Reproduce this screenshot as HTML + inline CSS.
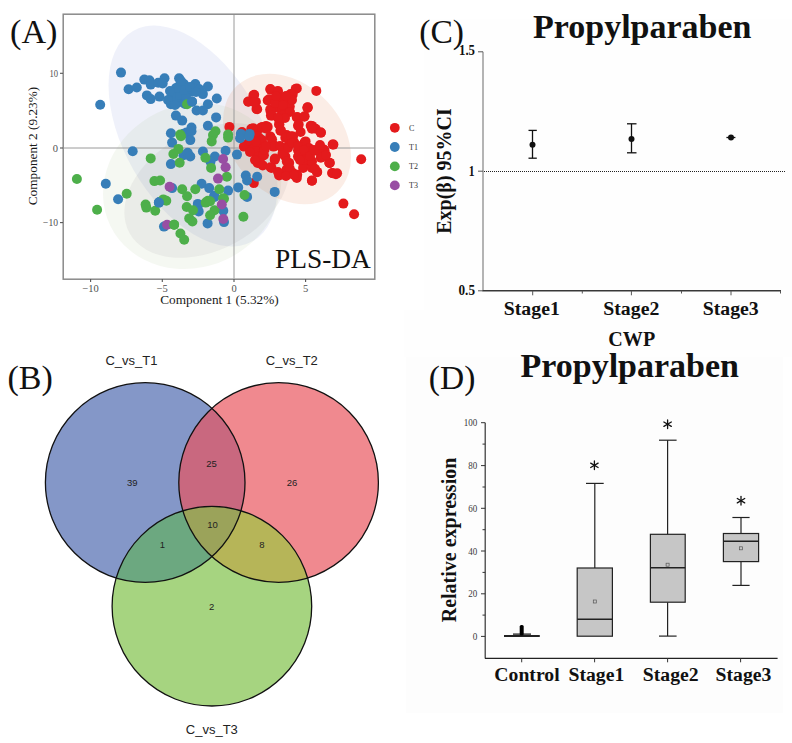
<!DOCTYPE html>
<html><head><meta charset="utf-8">
<style>
html,body{margin:0;padding:0;background:#fff;width:792px;height:743px;overflow:hidden}
svg{display:block}
.s{font-family:"Liberation Serif",serif}
.a{font-family:"Liberation Sans",sans-serif}
</style></head><body>
<svg width="792" height="743" viewBox="0 0 792 743">
<rect x="424" y="19" width="368" height="291" fill="#fefefe"/>
<rect x="404" y="310" width="388" height="46.5" fill="#fefefe"/>
<rect x="406" y="356.5" width="377" height="356.5" fill="#fdfdfd"/>
<!-- ============ PANEL A ============ -->
<g id="A">
<defs><clipPath id="clipA"><rect x="63.5" y="14.5" width="311" height="264"/></clipPath></defs>
<g clip-path="url(#clipA)">
<!-- ellipses -->
<ellipse cx="193" cy="136" rx="121" ry="68.5" transform="rotate(60.3 193 136)" fill="#6c80d0" fill-opacity="0.11"/>
<ellipse cx="287" cy="139" rx="73" ry="55" transform="rotate(47 287 139)" fill="#e4804b" fill-opacity="0.14"/>
<ellipse cx="192.2" cy="186" rx="91" ry="81.1" transform="rotate(-25.85 192.2 186)" fill="#9bbc80" fill-opacity="0.10"/>
<ellipse cx="206.9" cy="190.5" rx="88.3" ry="59.5" transform="rotate(-28.7 206.9 190.5)" fill="#665866" fill-opacity="0.075"/>
<line x1="234" y1="14" x2="234" y2="279" stroke="#9a9a9a" stroke-width="1"/>
<line x1="63" y1="148" x2="375" y2="148" stroke="#9a9a9a" stroke-width="1"/>
<!--PTS-->
<g fill="#E41A1C"><circle cx="229.4" cy="126.9" r="5.0"/><circle cx="253.4" cy="95.4" r="5.0"/><circle cx="248.3" cy="101.7" r="5.0"/><circle cx="255.9" cy="101.7" r="5.0"/><circle cx="257.2" cy="109.2" r="5.0"/><circle cx="253.4" cy="128.2" r="5.0"/><circle cx="262.2" cy="126.9" r="5.0"/><circle cx="242" cy="132" r="5.0"/><circle cx="270.3" cy="89" r="5.0"/><circle cx="277.8" cy="90.9" r="5.0"/><circle cx="267.7" cy="100.4" r="5.0"/><circle cx="275.3" cy="99.1" r="5.0"/><circle cx="282.9" cy="97.9" r="5.0"/><circle cx="289.2" cy="101.7" r="5.0"/><circle cx="290.5" cy="94.1" r="5.0"/><circle cx="296.8" cy="88.4" r="5.0"/><circle cx="316.3" cy="90.9" r="5.0"/><circle cx="270.3" cy="109.2" r="5.0"/><circle cx="277.8" cy="108" r="5.0"/><circle cx="287.9" cy="108" r="5.0"/><circle cx="270.9" cy="115.6" r="5.0"/><circle cx="281.6" cy="115.6" r="5.0"/><circle cx="307.5" cy="108" r="5.0"/><circle cx="296.8" cy="117.4" r="5.0"/><circle cx="304.3" cy="116.8" r="5.0"/><circle cx="279.1" cy="124.4" r="5.0"/><circle cx="280.4" cy="130.7" r="5.0"/><circle cx="267.7" cy="126.9" r="5.0"/><circle cx="251.3" cy="128.8" r="5.0"/><circle cx="260.2" cy="128.2" r="5.0"/><circle cx="298" cy="125.7" r="5.0"/><circle cx="310.7" cy="125.7" r="5.0"/><circle cx="315.7" cy="128.8" r="5.0"/><circle cx="320.8" cy="132.6" r="5.0"/><circle cx="300.6" cy="132" r="5.0"/><circle cx="247.5" cy="143.9" r="5.0"/><circle cx="252.6" cy="147.7" r="5.0"/><circle cx="258.9" cy="137.6" r="5.0"/><circle cx="261.4" cy="146.5" r="5.0"/><circle cx="270.3" cy="136.4" r="5.0"/><circle cx="274" cy="145.2" r="5.0"/><circle cx="266.5" cy="128.8" r="5.0"/><circle cx="286.7" cy="135.1" r="5.0"/><circle cx="293" cy="136.4" r="5.0"/><circle cx="282.9" cy="150.3" r="5.0"/><circle cx="289.2" cy="143.9" r="5.0"/><circle cx="311.9" cy="128.8" r="5.0"/><circle cx="305.6" cy="141.4" r="5.0"/><circle cx="298" cy="150.3" r="5.0"/><circle cx="308.1" cy="150.3" r="5.0"/><circle cx="319.5" cy="149" r="5.0"/><circle cx="324.5" cy="150.3" r="5.0"/><circle cx="333.4" cy="144.6" r="5.0"/><circle cx="258.9" cy="155.3" r="5.0"/><circle cx="263.9" cy="155.3" r="5.0"/><circle cx="274.7" cy="159.7" r="5.0"/><circle cx="285.4" cy="156.6" r="5.0"/><circle cx="298" cy="156.6" r="5.0"/><circle cx="304.3" cy="157.8" r="5.0"/><circle cx="320.8" cy="157.8" r="5.0"/><circle cx="257.6" cy="162.9" r="5.0"/><circle cx="262.7" cy="165.4" r="5.0"/><circle cx="289.2" cy="162.9" r="5.0"/><circle cx="304.3" cy="162.9" r="5.0"/><circle cx="329.6" cy="162.9" r="5.0"/><circle cx="271.5" cy="167.9" r="5.0"/><circle cx="279.1" cy="175.5" r="5.0"/><circle cx="286.7" cy="169.2" r="5.0"/><circle cx="293" cy="173" r="5.0"/><circle cx="296.8" cy="178" r="5.0"/><circle cx="303.1" cy="167.9" r="5.0"/><circle cx="311.9" cy="167.9" r="5.0"/><circle cx="317" cy="172.3" r="5.0"/><circle cx="311.9" cy="180.6" r="5.0"/><circle cx="332.1" cy="173" r="5.0"/><circle cx="335.9" cy="174.2" r="5.0"/><circle cx="253.8" cy="183.1" r="5.0"/><circle cx="312.1" cy="126.8" r="5.0"/><circle cx="361.2" cy="159.3" r="5.0"/><circle cx="317.2" cy="171.9" r="5.0"/><circle cx="343.4" cy="203.6" r="5.0"/><circle cx="354.1" cy="214.3" r="5.0"/><circle cx="307.7" cy="107.3" r="5.0"/><circle cx="329.3" cy="162.8" r="5.0"/><circle cx="320.2" cy="149.7" r="5.0"/><circle cx="254.2" cy="94.8" r="5.0"/><circle cx="248.3" cy="101.5" r="5.0"/><circle cx="256.5" cy="108.9" r="5.0"/><circle cx="254.2" cy="102.2" r="5.0"/><circle cx="270.5" cy="89.6" r="5.0"/><circle cx="277.9" cy="91.8" r="5.0"/><circle cx="295.7" cy="88.9" r="5.0"/><circle cx="292.7" cy="94.8" r="5.0"/><circle cx="269" cy="99.2" r="5.0"/><circle cx="279.4" cy="100.7" r="5.0"/><circle cx="286.8" cy="102.2" r="5.0"/><circle cx="289.8" cy="106.6" r="5.0"/><circle cx="270.5" cy="111.1" r="5.0"/><circle cx="282.4" cy="109.6" r="5.0"/><circle cx="272" cy="115.5" r="5.0"/><circle cx="282.4" cy="115.5" r="5.0"/><circle cx="307.5" cy="107.4" r="5.0"/><circle cx="297.2" cy="117" r="5.0"/><circle cx="304.6" cy="116.3" r="5.0"/><circle cx="279.4" cy="124.4" r="5.0"/><circle cx="280.9" cy="130.3" r="5.0"/><circle cx="298.7" cy="124.4" r="5.0"/><circle cx="312" cy="125.9" r="5.0"/><circle cx="320.9" cy="132.6" r="5.0"/><circle cx="332.7" cy="144.4" r="5.0"/><circle cx="242.4" cy="133.3" r="5.0"/><circle cx="252.8" cy="128.9" r="5.0"/><circle cx="266.1" cy="125.9" r="5.0"/><circle cx="243.9" cy="146.6" r="5.0"/><circle cx="257.2" cy="136.3" r="5.0"/><circle cx="261.6" cy="143.7" r="5.0"/><circle cx="272" cy="139.2" r="5.0"/><circle cx="273.5" cy="146.6" r="5.0"/><circle cx="285.3" cy="137.7" r="5.0"/><circle cx="291.3" cy="136.3" r="5.0"/><circle cx="294.2" cy="142.2" r="5.0"/><circle cx="285.3" cy="148.1" r="5.0"/><circle cx="282.4" cy="154" r="5.0"/><circle cx="257.2" cy="154" r="5.0"/><circle cx="263.1" cy="155.5" r="5.0"/><circle cx="275" cy="158.5" r="5.0"/><circle cx="260.2" cy="162.9" r="5.0"/><circle cx="270.5" cy="167.3" r="5.0"/><circle cx="279.4" cy="174.7" r="5.0"/><circle cx="286.8" cy="161.4" r="5.0"/><circle cx="289.8" cy="168.8" r="5.0"/><circle cx="297.2" cy="174.7" r="5.0"/><circle cx="300.1" cy="154" r="5.0"/><circle cx="304.6" cy="142.2" r="5.0"/><circle cx="309" cy="148.1" r="5.0"/><circle cx="303.1" cy="159.9" r="5.0"/><circle cx="312" cy="161.4" r="5.0"/><circle cx="314.9" cy="168.8" r="5.0"/><circle cx="317.9" cy="151.1" r="5.0"/><circle cx="323.8" cy="149.6" r="5.0"/><circle cx="322.3" cy="157" r="5.0"/><circle cx="329.7" cy="162.9" r="5.0"/><circle cx="332.7" cy="173.3" r="5.0"/><circle cx="337.1" cy="173.3" r="5.0"/><circle cx="312" cy="180.7" r="5.0"/><circle cx="249.8" cy="140.7" r="5.0"/><circle cx="254.2" cy="148.1" r="5.0"/><circle cx="264.6" cy="149.6" r="5.0"/><circle cx="262" cy="140" r="5.0"/><circle cx="266" cy="146" r="5.0"/><circle cx="256" cy="142" r="5.0"/><circle cx="280" cy="146" r="5.0"/><circle cx="288" cy="148" r="5.0"/><circle cx="292" cy="143" r="5.0"/><circle cx="298" cy="146" r="5.0"/><circle cx="304" cy="150" r="5.0"/><circle cx="310" cy="156" r="5.0"/><circle cx="300" cy="160" r="5.0"/><circle cx="314" cy="150" r="5.0"/><circle cx="320" cy="145" r="5.0"/><circle cx="326" cy="155" r="5.0"/><circle cx="278" cy="172" r="5.0"/><circle cx="286" cy="176" r="5.0"/><circle cx="294" cy="175" r="5.0"/><circle cx="250" cy="152" r="5.0"/><circle cx="255" cy="160" r="5.0"/><circle cx="275" cy="103" r="5.0"/><circle cx="283" cy="105" r="5.0"/><circle cx="290" cy="112" r="5.0"/><circle cx="285" cy="118" r="5.0"/><circle cx="278" cy="118" r="5.0"/><circle cx="292" cy="100" r="5.0"/><circle cx="276" cy="96" r="5.0"/><circle cx="286" cy="96" r="5.0"/></g>
<g fill="#377EB8"><circle cx="121.0" cy="72.6" r="5.0"/><circle cx="100.2" cy="104.8" r="5.0"/><circle cx="128.6" cy="89.3" r="5.0"/><circle cx="136.8" cy="87.5" r="5.0"/><circle cx="144.3" cy="79.6" r="5.0"/><circle cx="149.4" cy="80.2" r="5.0"/><circle cx="150.7" cy="84.6" r="5.0"/><circle cx="158.2" cy="82.7" r="5.0"/><circle cx="164.5" cy="78.3" r="5.0"/><circle cx="162.7" cy="83.4" r="5.0"/><circle cx="146.9" cy="95.4" r="5.0"/><circle cx="150.7" cy="99.1" r="5.0"/><circle cx="159.5" cy="96.6" r="5.0"/><circle cx="179.1" cy="78.3" r="5.0"/><circle cx="179.7" cy="85.3" r="5.0"/><circle cx="175.9" cy="92.8" r="5.0"/><circle cx="172.1" cy="100.4" r="5.0"/><circle cx="170.9" cy="104.2" r="5.0"/><circle cx="177.2" cy="102.9" r="5.0"/><circle cx="175.9" cy="115.6" r="5.0"/><circle cx="182.2" cy="120.6" r="5.0"/><circle cx="170.9" cy="133.2" r="5.0"/><circle cx="183.9" cy="84" r="5.0"/><circle cx="195.3" cy="84" r="5.0"/><circle cx="199.1" cy="89" r="5.0"/><circle cx="207.9" cy="86.5" r="5.0"/><circle cx="202.9" cy="94.1" r="5.0"/><circle cx="186.5" cy="90.3" r="5.0"/><circle cx="191.5" cy="91.6" r="5.0"/><circle cx="178.9" cy="101.7" r="5.0"/><circle cx="192.1" cy="101.7" r="5.0"/><circle cx="216.8" cy="98.5" r="5.0"/><circle cx="207.9" cy="104.2" r="5.0"/><circle cx="196.6" cy="110.5" r="5.0"/><circle cx="202.9" cy="110.5" r="5.0"/><circle cx="216.1" cy="117.4" r="5.0"/><circle cx="207.9" cy="125.7" r="5.0"/><circle cx="191.5" cy="127.6" r="5.0"/><circle cx="186.5" cy="132.6" r="5.0"/><circle cx="240.8" cy="133.9" r="5.0"/><circle cx="249.6" cy="133.9" r="5.0"/><circle cx="132.7" cy="151.2" r="5.0"/><circle cx="105.8" cy="183.7" r="5.0"/><circle cx="118.1" cy="199.2" r="5.0"/><circle cx="172.1" cy="142.6" r="5.0"/><circle cx="183.5" cy="133.8" r="5.0"/><circle cx="170.9" cy="164.1" r="5.0"/><circle cx="183.5" cy="155.3" r="5.0"/><circle cx="172.1" cy="188.1" r="5.0"/><circle cx="159.5" cy="202" r="5.0"/><circle cx="190.3" cy="140.1" r="5.0"/><circle cx="191.5" cy="131.3" r="5.0"/><circle cx="187.7" cy="152.7" r="5.0"/><circle cx="190.3" cy="156.5" r="5.0"/><circle cx="202.9" cy="151.5" r="5.0"/><circle cx="214.9" cy="156.5" r="5.0"/><circle cx="210.5" cy="161.6" r="5.0"/><circle cx="225.6" cy="150.8" r="5.0"/><circle cx="237" cy="154.6" r="5.0"/><circle cx="240.1" cy="138.2" r="5.0"/><circle cx="249" cy="136.3" r="5.0"/><circle cx="245.8" cy="175.5" r="5.0"/><circle cx="247.1" cy="180.5" r="5.0"/><circle cx="257.2" cy="176.7" r="5.0"/><circle cx="201.6" cy="183.7" r="5.0"/><circle cx="209.2" cy="188.1" r="5.0"/><circle cx="214.2" cy="195.7" r="5.0"/><circle cx="228.1" cy="190.6" r="5.0"/><circle cx="238.2" cy="187.4" r="5.0"/><circle cx="247.1" cy="196.9" r="5.0"/><circle cx="197.8" cy="203.9" r="5.0"/><circle cx="274.7" cy="191.9" r="5.0"/><circle cx="158.9" cy="202.6" r="5.0"/><circle cx="198.1" cy="205.1" r="5.0"/><circle cx="198.7" cy="211.4" r="5.0"/><circle cx="164" cy="226.6" r="5.0"/><circle cx="207.6" cy="223.4" r="5.0"/><circle cx="214.5" cy="196.9" r="5.0"/><circle cx="223.3" cy="210.8" r="5.0"/><circle cx="224" cy="222.1" r="5.0"/><circle cx="172" cy="96" r="5.0"/><circle cx="180" cy="95" r="5.0"/><circle cx="186" cy="97" r="5.0"/><circle cx="184" cy="90" r="5.0"/><circle cx="190" cy="87" r="5.0"/><circle cx="176" cy="88" r="5.0"/><circle cx="168" cy="100" r="5.0"/><circle cx="175" cy="105" r="5.0"/><circle cx="196" cy="92" r="5.0"/><circle cx="185" cy="104" r="5.0"/><circle cx="181" cy="81" r="5.0"/><circle cx="170" cy="91" r="5.0"/></g>
<g fill="#4DAF4A"><circle cx="243.4" cy="216.8" r="5.0"/><circle cx="187.1" cy="104.2" r="5.0"/><circle cx="215.5" cy="131.3" r="5.0"/><circle cx="228.1" cy="134.5" r="5.0"/><circle cx="180.2" cy="134.5" r="5.0"/><circle cx="150.7" cy="158.4" r="5.0"/><circle cx="178.4" cy="148.9" r="5.0"/><circle cx="173.4" cy="154" r="5.0"/><circle cx="179.7" cy="162.8" r="5.0"/><circle cx="181" cy="136.3" r="5.0"/><circle cx="154.4" cy="181.1" r="5.0"/><circle cx="160.1" cy="180.5" r="5.0"/><circle cx="126.7" cy="193.8" r="5.0"/><circle cx="182.2" cy="189.3" r="5.0"/><circle cx="163.3" cy="199.4" r="5.0"/><circle cx="145.6" cy="204.5" r="5.0"/><circle cx="76.9" cy="179" r="5.0"/><circle cx="97.1" cy="209.8" r="5.0"/><circle cx="213" cy="135" r="5.0"/><circle cx="211.7" cy="141.4" r="5.0"/><circle cx="228.1" cy="137.6" r="5.0"/><circle cx="205.4" cy="157.8" r="5.0"/><circle cx="211.1" cy="167.9" r="5.0"/><circle cx="226.9" cy="176.7" r="5.0"/><circle cx="187.1" cy="196.3" r="5.0"/><circle cx="195.3" cy="189.3" r="5.0"/><circle cx="219.3" cy="189.3" r="5.0"/><circle cx="223.1" cy="198.2" r="5.0"/><circle cx="244.5" cy="195" r="5.0"/><circle cx="207.9" cy="200.7" r="5.0"/><circle cx="166.3" cy="200.7" r="5.0"/><circle cx="146.3" cy="207.6" r="5.0"/><circle cx="155.2" cy="210.8" r="5.0"/><circle cx="186.7" cy="207" r="5.0"/><circle cx="193" cy="210.2" r="5.0"/><circle cx="189.2" cy="218.4" r="5.0"/><circle cx="192.4" cy="221.5" r="5.0"/><circle cx="174.1" cy="224.7" r="5.0"/><circle cx="180.4" cy="233.5" r="5.0"/><circle cx="184.2" cy="239.8" r="5.0"/><circle cx="205.7" cy="202.6" r="5.0"/><circle cx="210.1" cy="201.3" r="5.0"/><circle cx="214.5" cy="210.2" r="5.0"/><circle cx="210.1" cy="215.2" r="5.0"/><circle cx="224" cy="198.8" r="5.0"/></g>
<g fill="#377EB8"><circle cx="191.9" cy="101.6" r="5.0"/><circle cx="158.9" cy="202.6" r="5.0"/></g>
<g fill="#984EA3"><circle cx="169.6" cy="186.8" r="5.0"/><circle cx="223.1" cy="159" r="5.0"/><circle cx="225.6" cy="167.2" r="5.0"/><circle cx="218" cy="178.6" r="5.0"/><circle cx="221.8" cy="204.5" r="5.0"/><circle cx="167.1" cy="224.7" r="5.0"/><circle cx="223.3" cy="219" r="5.0"/></g>
<g fill="#4DAF4A"><circle cx="174.1" cy="224.7" r="5.0"/></g>
<!--/PTS-->
</g>
<rect x="63.2" y="14.2" width="311.6" height="265" fill="none" stroke="#8a8a8a" stroke-width="1.5"/>
<!-- ticks -->
<g stroke="#555" stroke-width="1.1">
<line x1="90.6" y1="279" x2="90.6" y2="282"/><line x1="162.3" y1="279" x2="162.3" y2="282"/>
<line x1="234" y1="279" x2="234" y2="282"/><line x1="305.6" y1="279" x2="305.6" y2="282"/>
<line x1="60" y1="73.3" x2="63" y2="73.3"/><line x1="60" y1="148" x2="63" y2="148"/><line x1="60" y1="222.6" x2="63" y2="222.6"/>
</g>
<g class="s" font-size="10.5" fill="#505050" text-anchor="middle">
<text x="90.6" y="292">−10</text><text x="162.3" y="292">−5</text><text x="234" y="292">0</text><text x="305.6" y="292">5</text>
</g>
<g class="s" font-size="10.5" fill="#505050" text-anchor="end">
<text x="58" y="77" textLength="8.6" lengthAdjust="spacingAndGlyphs">10</text><text x="58" y="151.7">0</text><text x="58" y="226.3" textLength="15" lengthAdjust="spacingAndGlyphs">−10</text>
</g>
<text class="s" x="219.5" y="304" font-size="13.3" text-anchor="middle" fill="#1a1a1a">Component 1 (5.32%)</text>
<text class="s" transform="translate(36.8 146) rotate(-90)" font-size="13.3" text-anchor="middle" fill="#1a1a1a">Component 2 (9.23%)</text>
<text class="s" x="275" y="268" font-size="27.4" fill="#111">PLS-DA</text>
<text class="s" x="10" y="43" font-size="34.2" fill="#111">(A)</text>
<!-- legend -->
<circle cx="394.8" cy="127.8" r="4.9" fill="#E41A1C"/>
<circle cx="394.8" cy="147" r="4.9" fill="#377EB8"/>
<circle cx="394.8" cy="166.4" r="4.9" fill="#4DAF4A"/>
<circle cx="394.8" cy="185.4" r="4.9" fill="#984EA3"/>
<g class="s" font-size="8" fill="#333">
<text x="409" y="130.5">C</text><text x="409" y="149.8">T1</text><text x="409" y="169.2">T2</text><text x="409" y="188.2">T3</text>
</g>
</g>

<!-- ============ PANEL B ============ -->
<g id="B">
<defs>
<clipPath id="cA"><circle cx="145.2" cy="482.5" r="99.8"/></clipPath>
<clipPath id="cB"><circle cx="278.6" cy="482.5" r="99.8"/></clipPath>
</defs>
<circle cx="145.2" cy="482.5" r="99.8" fill="#8497c8"/>
<circle cx="278.6" cy="482.5" r="99.8" fill="#f0898f"/>
<circle cx="211.9" cy="606.2" r="99.8" fill="#a6d480"/>
<circle cx="278.6" cy="482.5" r="99.8" fill="#c9687f" clip-path="url(#cA)"/>
<circle cx="211.9" cy="606.2" r="99.8" fill="#6ca880" clip-path="url(#cA)"/>
<circle cx="211.9" cy="606.2" r="99.8" fill="#b6b558" clip-path="url(#cB)"/>
<g clip-path="url(#cA)"><circle cx="211.9" cy="606.2" r="99.8" fill="#9ba35a" clip-path="url(#cB)"/></g>
<g fill="none" stroke="#111" stroke-width="1.3">
<circle cx="145.2" cy="482.5" r="99.8"/>
<circle cx="278.6" cy="482.5" r="99.8"/>
<circle cx="211.9" cy="606.2" r="99.8"/>
</g>
<g class="a" font-size="9.5" fill="#222" text-anchor="middle">
<text x="132.3" y="485.7">39</text>
<text x="292" y="485.9">26</text>
<text x="211.5" y="467.3">25</text>
<text x="212.5" y="527.9">10</text>
<text x="162.3" y="548.2">1</text>
<text x="261.8" y="548.2">8</text>
<text x="211.6" y="609.8">2</text>
</g>
<g class="a" font-size="13" fill="#222" text-anchor="middle">
<text x="131.5" y="364.6">C_vs_T1</text>
<text x="291.8" y="364.6">C_vs_T2</text>
<text x="211.8" y="734.4">C_vs_T3</text>
</g>
<text class="s" x="7.5" y="388.5" font-size="34" fill="#111">(B)</text>
</g>

<!-- ============ PANEL C ============ -->
<g id="C">
<text class="s" x="533" y="38.4" font-size="34" font-weight="700" fill="#111">Propylparaben</text>
<text class="s" x="419.3" y="43.3" font-size="33.5" fill="#111">(C)</text>
<line x1="483" y1="51.8" x2="483" y2="291" stroke="#6a6a6a" stroke-width="1"/>
<line x1="482.5" y1="290.8" x2="781" y2="290.8" stroke="#383838" stroke-width="1.4"/>
<g stroke="#555" stroke-width="1">
<line x1="478" y1="51.8" x2="483" y2="51.8"/><line x1="478" y1="171.2" x2="483" y2="171.2"/><line x1="478" y1="290.8" x2="483" y2="290.8"/>
<line x1="532.7" y1="290.8" x2="532.7" y2="295.3"/><line x1="631.4" y1="290.8" x2="631.4" y2="295.3"/><line x1="731" y1="290.8" x2="731" y2="295.3"/>
<line x1="582.3" y1="290.8" x2="582.3" y2="293.5"/><line x1="681.5" y1="290.8" x2="681.5" y2="293.5"/><line x1="780.5" y1="290.8" x2="780.5" y2="293.5"/>
</g>
<line x1="484" y1="171.5" x2="785.5" y2="171.5" stroke="#222" stroke-width="1.1" stroke-dasharray="1 1"/>
<g class="s" font-size="14.5" font-weight="700" fill="#111" text-anchor="end">
<text x="475" y="55.3" textLength="16" lengthAdjust="spacingAndGlyphs">1.5</text><text x="474.5" y="175.7" textLength="5.8" lengthAdjust="spacingAndGlyphs">1</text><text x="475" y="294.9" textLength="16.5" lengthAdjust="spacingAndGlyphs">0.5</text>
</g>
<g class="s" font-size="19.8" font-weight="700" fill="#111" text-anchor="middle">
<text x="531.8" y="315">Stage1</text><text x="631.3" y="315">Stage2</text><text x="730.7" y="315">Stage3</text>
</g>
<text class="s" x="631.8" y="346.3" font-size="20.1" font-weight="700" text-anchor="middle" fill="#111">CWP</text>
<text class="s" transform="translate(451 171) rotate(-90)" font-size="20" font-weight="700" text-anchor="middle" fill="#111">Exp(β) 95%CI</text>
<!-- error bars -->
<g stroke="#111" stroke-width="1.3" fill="#111">
<line x1="532.5" y1="130.4" x2="532.5" y2="158.2"/><line x1="528.5" y1="130.4" x2="536.8" y2="130.4"/><line x1="528.5" y1="158.2" x2="536.8" y2="158.2"/>
<circle cx="532.5" cy="144.8" r="3" stroke="none"/>
<line x1="631.5" y1="123.8" x2="631.5" y2="152.8"/><line x1="627" y1="123.8" x2="636.5" y2="123.8"/><line x1="627" y1="152.8" x2="636.5" y2="152.8"/>
<circle cx="631.5" cy="139" r="3" stroke="none"/>
<line x1="726.4" y1="137.5" x2="735.4" y2="137.5"/>
<circle cx="731" cy="137.5" r="3" stroke="none"/>
</g>
</g>

<!-- ============ PANEL D ============ -->
<g id="D">
<text class="s" x="520.5" y="376.6" font-size="34" font-weight="700" fill="#111">Propylparaben</text>
<text class="s" x="428.8" y="389.2" font-size="33.5" fill="#111">(D)</text>
<line x1="485.2" y1="422.7" x2="485.2" y2="658.5" stroke="#333" stroke-width="1.2"/>
<line x1="485" y1="658.3" x2="777.6" y2="658.3" stroke="#222" stroke-width="1.3"/>
<g stroke="#333" stroke-width="1">
<line x1="481" y1="422.7" x2="485.2" y2="422.7"/><line x1="481" y1="465.6" x2="485.2" y2="465.6"/><line x1="481" y1="508.3" x2="485.2" y2="508.3"/>
<line x1="481" y1="551" x2="485.2" y2="551"/><line x1="481" y1="593.8" x2="485.2" y2="593.8"/><line x1="481" y1="636.4" x2="485.2" y2="636.4"/>
<line x1="482.5" y1="444.1" x2="485.2" y2="444.1"/><line x1="482.5" y1="487" x2="485.2" y2="487"/><line x1="482.5" y1="529.7" x2="485.2" y2="529.7"/>
<line x1="482.5" y1="572.4" x2="485.2" y2="572.4"/><line x1="482.5" y1="615.1" x2="485.2" y2="615.1"/>
<line x1="521.7" y1="658.2" x2="521.7" y2="662.3"/><line x1="594.6" y1="658.2" x2="594.6" y2="662.3"/>
<line x1="667.6" y1="658.2" x2="667.6" y2="662.3"/><line x1="740.6" y1="658.2" x2="740.6" y2="662.3"/>
</g>
<g class="s" font-size="10" fill="#3a3a3a" text-anchor="end">
<text x="477.3" y="426.2" textLength="13.6" lengthAdjust="spacingAndGlyphs">100</text><text x="477.3" y="469.1" textLength="9" lengthAdjust="spacingAndGlyphs">80</text><text x="477.3" y="511.8" textLength="9" lengthAdjust="spacingAndGlyphs">60</text>
<text x="477.3" y="554.5" textLength="9" lengthAdjust="spacingAndGlyphs">40</text><text x="477.3" y="597.3" textLength="9" lengthAdjust="spacingAndGlyphs">20</text><text x="477.3" y="639.9" textLength="4.6" lengthAdjust="spacingAndGlyphs">0</text>
</g>
<g class="s" font-size="19.7" font-weight="700" fill="#111" text-anchor="middle">
<text x="527" y="680.8">Control</text><text x="596.4" y="680.8">Stage1</text><text x="670.7" y="680.8">Stage2</text><text x="743.5" y="680.8">Stage3</text>
</g>
<text class="s" transform="translate(455.6 540) rotate(-90)" font-size="20" font-weight="700" text-anchor="middle" fill="#111">Relative expression</text>
<!-- boxes -->
<g stroke="#222" stroke-width="1.2" fill="#c6c6c6">
<!-- control -->
<rect x="513" y="633.3" width="18" height="3" fill="#555" stroke="none"/>
<line x1="504" y1="635.9" x2="539.8" y2="635.9" stroke-width="2"/>
<rect x="519.7" y="625" width="4" height="10.5" rx="1.6" fill="#000" stroke="none"/>
<!-- stage1 -->
<line x1="594.8" y1="483.4" x2="594.8" y2="568"/><line x1="586" y1="483.4" x2="603.7" y2="483.4"/>
<rect x="577.2" y="568" width="35.2" height="68.2"/>
<line x1="577.2" y1="619.2" x2="612.4" y2="619.2" stroke-width="1.6"/>
<rect x="593.3" y="600" width="3" height="3" fill="none" stroke="#555" stroke-width="0.7"/>
<!-- stage2 -->
<line x1="667.6" y1="440.2" x2="667.6" y2="534.3"/><line x1="667.6" y1="602.2" x2="667.6" y2="636.1"/>
<line x1="659" y1="440.2" x2="676.6" y2="440.2"/><line x1="659" y1="636.1" x2="676.6" y2="636.1"/>
<rect x="650.4" y="534.3" width="34.8" height="67.9"/>
<line x1="650.4" y1="567.8" x2="685.2" y2="567.8" stroke-width="1.6"/>
<rect x="666.1" y="563.2" width="3" height="3" fill="none" stroke="#555" stroke-width="0.7"/>
<!-- stage3 -->
<line x1="741" y1="517.5" x2="741" y2="533.5"/><line x1="741" y1="561.6" x2="741" y2="585.4"/>
<line x1="732.4" y1="517.5" x2="749.6" y2="517.5"/><line x1="732.4" y1="585.4" x2="749.6" y2="585.4"/>
<rect x="723.4" y="533.5" width="35.2" height="28.1"/>
<line x1="723.4" y1="541.3" x2="758.6" y2="541.3" stroke-width="1.6"/>
<rect x="739.5" y="546.8" width="3" height="3" fill="none" stroke="#555" stroke-width="0.7"/>
</g>
<g stroke="#111" stroke-width="1.3" stroke-linecap="round"><line x1="594.40" y1="461.00" x2="594.40" y2="469.60"/><line x1="590.68" y1="463.15" x2="598.12" y2="467.45"/><line x1="598.12" y1="463.15" x2="590.68" y2="467.45"/><line x1="667.60" y1="419.90" x2="667.60" y2="428.50"/><line x1="663.88" y1="422.05" x2="671.32" y2="426.35"/><line x1="671.32" y1="422.05" x2="663.88" y2="426.35"/><line x1="741.00" y1="496.40" x2="741.00" y2="505.00"/><line x1="737.28" y1="498.55" x2="744.72" y2="502.85"/><line x1="744.72" y1="498.55" x2="737.28" y2="502.85"/></g>
</g>
</svg>
</body></html>
